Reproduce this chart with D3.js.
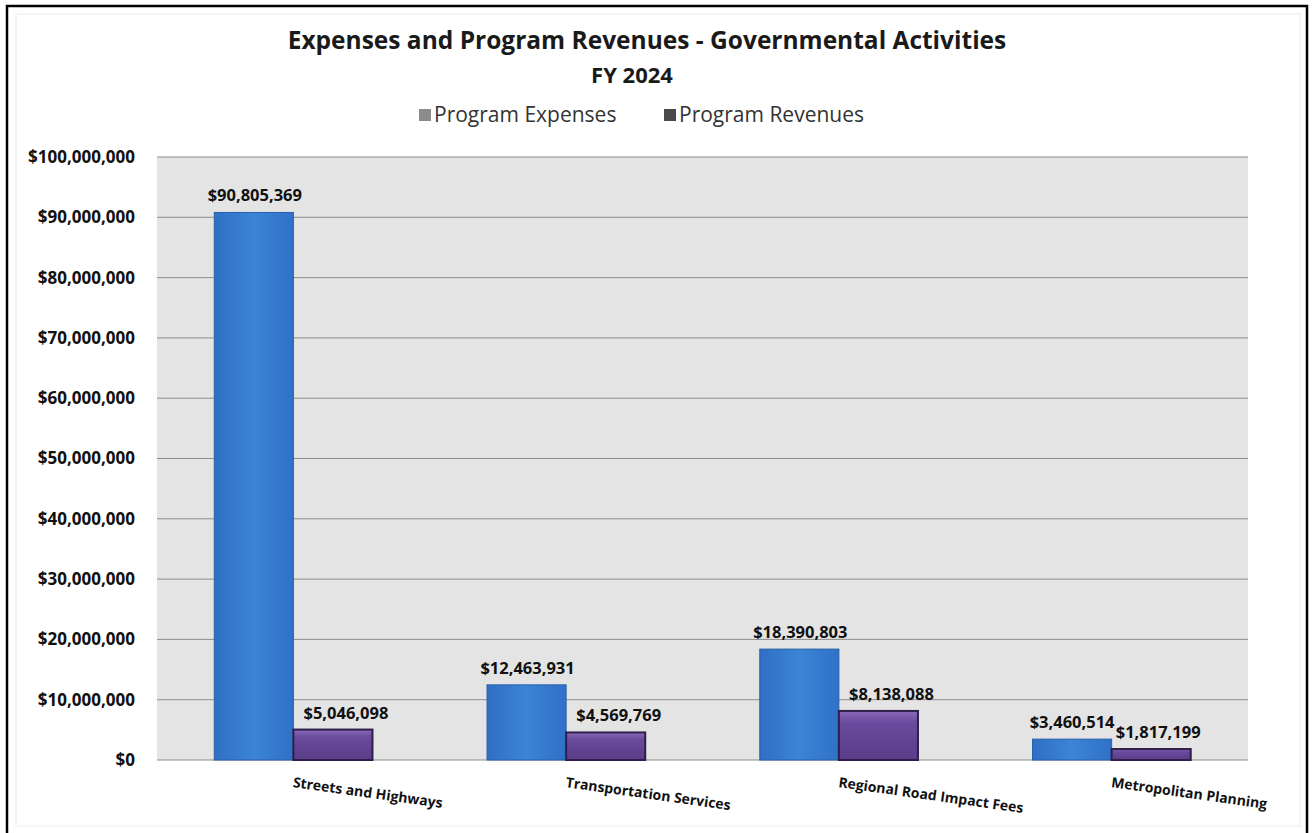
<!DOCTYPE html>
<html>
<head>
<meta charset="utf-8">
<script src="https://cdn.jsdelivr.net/npm/d3@7"></script>
<style>
  body { margin: 0; background: #fff; }
  svg text { font-family: "Open Sans", "Noto Sans", sans-serif; }
</style>
</head>
<body>
<svg id="chart"></svg>
<script>
// chart values
const categories = ["Streets and Highways", "Transportation Services", "Regional Road Impact Fees", "Metropolitan Planning"];
const seriesNames = ["Program Expenses", "Program Revenues"];
const expenses = [90805369, 12463931, 18390803, 3460514];
const revenues = [5046098, 4569769, 8138088, 1817199];
const yTicks = [0, 10000000, 20000000, 30000000, 40000000, 50000000, 60000000, 70000000, 80000000, 90000000, 100000000];

const width = 1314, height = 833;
const margin = {top: 157, right: 66, bottom: 73, left: 157};
const innerW = width - margin.left - margin.right;
const innerH = height - margin.top - margin.bottom;

const svg = d3.select('#chart').attr('width', width).attr('height', height);

// gradients for the bars
const defs = svg.append('defs');
const blueGrad = defs.append('linearGradient').attr('id', 'blueGrad');
blueGrad.append('stop').attr('offset', '0%').attr('stop-color', '#2f6fc4');
blueGrad.append('stop').attr('offset', '50%').attr('stop-color', '#3b84d6');
blueGrad.append('stop').attr('offset', '100%').attr('stop-color', '#2f71c6');
const purpGrad = defs.append('linearGradient').attr('id', 'purpGrad').attr('x2', 0).attr('y2', 1);
purpGrad.append('stop').attr('offset', '0%').attr('stop-color', '#8a68b8');
purpGrad.append('stop').attr('offset', '25%').attr('stop-color', '#6a4a9c');
purpGrad.append('stop').attr('offset', '100%').attr('stop-color', '#5a3c8a');

// outer frame
svg.append('rect')
    .attr('x', 7).attr('y', 6)
    .attr('width', 1300).attr('height', 840)
    .attr('fill', '#fff').attr('stroke', '#000').attr('stroke-width', 2.5);
svg.append('rect')
    .attr('x', 16).attr('y', 14)
    .attr('width', 1284).attr('height', 812)
    .attr('fill', 'none').attr('stroke', '#ececec').attr('stroke-width', 1);

// title
svg.append('text')
    .attr('x', 647).attr('y', 49)
    .attr('text-anchor', 'middle')
    .attr('font-size', 24.5).attr('font-weight', 'bold')
    .attr('fill', '#1a1a1a')
    .text('Expenses and Program Revenues - Governmental Activities');
svg.append('text')
    .attr('x', 632).attr('y', 83)
    .attr('text-anchor', 'middle')
    .attr('font-size', 22).attr('font-weight', 'bold')
    .attr('fill', '#1a1a1a')
    .text('FY 2024');

// legend
const legendColors = ['#8c8c8c', '#4a4a4a'];
const legendX = [419, 664];
seriesNames.forEach((name, i) => {
  const g = svg.append('g').attr('transform', `translate(${legendX[i]},122)`);
  g.append('rect').attr('x', 0).attr('y', -13).attr('width', 12).attr('height', 12)
      .attr('fill', legendColors[i]);
  g.append('text').attr('x', 15).attr('y', 0)
      .attr('font-size', 21).attr('fill', '#333')
      .text(name);
});

const chart = svg.append('g')
    .attr('transform', `translate(${margin.left},${margin.top})`);

const xScale = d3.scaleBand()
    .domain(categories)
    .range([0, innerW])
    .paddingInner(0.42)
    .paddingOuter(0.21);

const x1 = d3.scaleBand()
    .domain(seriesNames)
    .range([0, xScale.bandwidth()]);

const yScale = d3.scaleLinear()
    .domain([0, 100000000])
    .range([innerH, 0]);

// plot background
chart.append('rect')
    .attr('width', innerW).attr('height', innerH)
    .attr('fill', '#e4e4e4');

// gridlines
chart.append('g')
    .selectAll('line')
    .data(yTicks)
    .join('line')
    .attr('x1', 0).attr('x2', innerW)
    .attr('y1', d => yScale(d)).attr('y2', d => yScale(d))
    .attr('stroke', '#8e8e8e').attr('stroke-width', 1);

// y axis
const yAxis = d3.axisLeft(yScale)
    .tickValues(yTicks)
    .tickSize(0)
    .tickPadding(22)
    .tickFormat(d => '$' + d3.format(',')(d));
const yAxisG = chart.append('g').call(yAxis);
yAxisG.select('.domain').remove();
yAxisG.selectAll('text')
    .attr('font-size', 17).attr('font-weight', 'bold')
    .attr('fill', '#111')
    .style('font-family', '"Open Sans", sans-serif');

// x axis with rotated labels
const xAxis = d3.axisBottom(xScale).tickSize(0).tickPadding(0);
const xAxisG = chart.append('g')
    .attr('transform', `translate(0,${innerH})`)
    .call(xAxis);
xAxisG.select('.domain').remove();
xAxisG.selectAll('text')
    .attr('font-size', 14).attr('font-weight', 'bold')
    .attr('fill', '#111')
    .style('font-family', '"Open Sans", sans-serif')
    .attr('text-anchor', 'start')
    .attr('dy', 0)
    .attr('transform', 'translate(-1,27) rotate(8)');

// bars
const rows = categories.map((c, i) => ({cat: c, values: [
  {series: seriesNames[0], value: expenses[i]},
  {series: seriesNames[1], value: revenues[i]}
]}));

const groups = chart.selectAll('.grp')
    .data(rows)
    .join('g')
    .attr('class', 'grp')
    .attr('transform', d => `translate(${xScale(d.cat)},0)`);

groups.selectAll('rect')
    .data(d => d.values)
    .join('rect')
    .attr('x', d => x1(d.series))
    .attr('y', d => yScale(d.value))
    .attr('width', x1.bandwidth())
    .attr('height', d => innerH - yScale(d.value))
    .attr('fill', (d, i) => i === 0 ? 'url(#blueGrad)' : 'url(#purpGrad)')
    .attr('stroke', (d, i) => i === 0 ? '#2a5fa8' : '#2e1f4a')
    .attr('stroke-width', (d, i) => i === 0 ? 1 : 2);

// value labels (revenue labels sit a little right of their bar, as in the original)
const labelShift = {"Metropolitan Planning": [0, 7]};
groups.selectAll('.val')
    .data(d => d.values.map(v => Object.assign({cat: d.cat}, v)))
    .join('text')
    .attr('class', 'val')
    .attr('x', (d, i) => x1(d.series) + x1.bandwidth() / 2 + (labelShift[d.cat] ? labelShift[d.cat][i] : (i === 1 ? 13 : 1)))
    .attr('y', d => yScale(d.value) - 11)
    .attr('text-anchor', 'middle')
    .attr('font-size', 16.5).attr('font-weight', 'bold')
    .attr('fill', '#111')
    .text(d => '$' + d3.format(',')(d.value));
</script>
</body>
</html>
